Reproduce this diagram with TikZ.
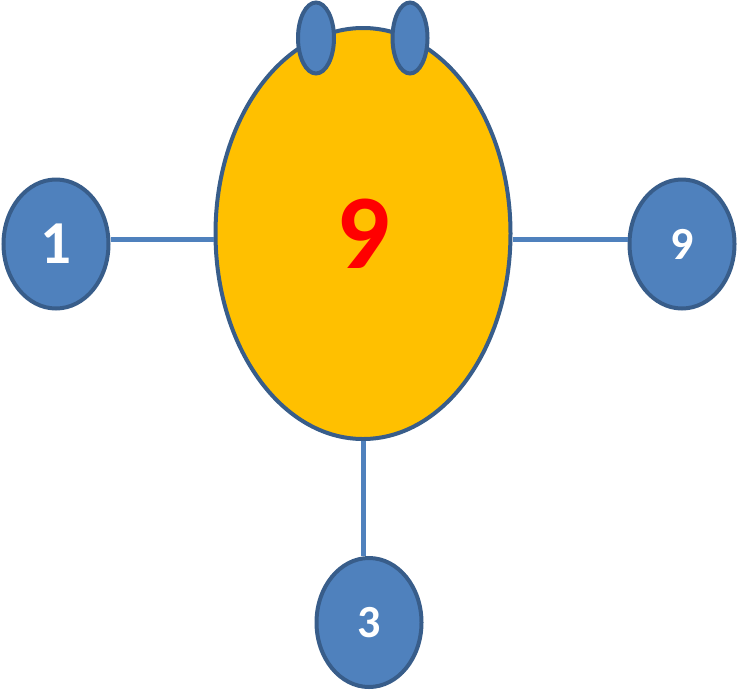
\documentclass[tikz,border=0pt]{standalone}
\usepackage{fontspec}
\setmainfont{Carlito}
\usetikzlibrary{shapes.geometric}
\definecolor{bfill}{HTML}{4F81BD}
\definecolor{bdraw}{HTML}{385D8A}
\definecolor{gold}{HTML}{FFC000}
\tikzset{
  blob/.style={ellipse, draw=bdraw, line width=4pt, fill=bfill, inner sep=0pt, text=white, font=\bfseries},
  big/.style={ellipse, draw=bdraw, line width=4pt, fill=gold, inner sep=0pt},
  link/.style={draw=bfill, line width=5pt}
}
\begin{document}
\begin{tikzpicture}[x=1pt,y=-1pt]
\useasboundingbox (0,0) rectangle (738,691);
\node[big, minimum width=295pt, minimum height=411pt, text=red, font=\bfseries\fontsize{106}{106}\selectfont] (main) at (363,233.5) {9};
\node[blob, minimum width=36pt, minimum height=71pt] (eL) at (316,38) {};
\node[blob, minimum width=35pt, minimum height=71pt] (eR) at (410,38) {};
\node[blob, minimum width=105pt, minimum height=129pt, font=\bfseries\fontsize{61}{61}\selectfont] (n1) at (56,244) {1};
\node[blob, minimum width=105pt, minimum height=129pt, font=\bfseries\fontsize{46}{46}\selectfont] (n9) at (682,244) {9};
\node[blob, minimum width=105pt, minimum height=129pt, font=\bfseries\fontsize{46}{46}\selectfont] (n3) at (369,622.5) {3};
\draw[link] (n1.east |- 0,239) -- (main.west |- 0,239);
\draw[link] (main.east |- 0,239) -- (n9.west |- 0,239);
\draw[link] (main.south) -- (main.south |- n3.north);
\end{tikzpicture}
\end{document}
